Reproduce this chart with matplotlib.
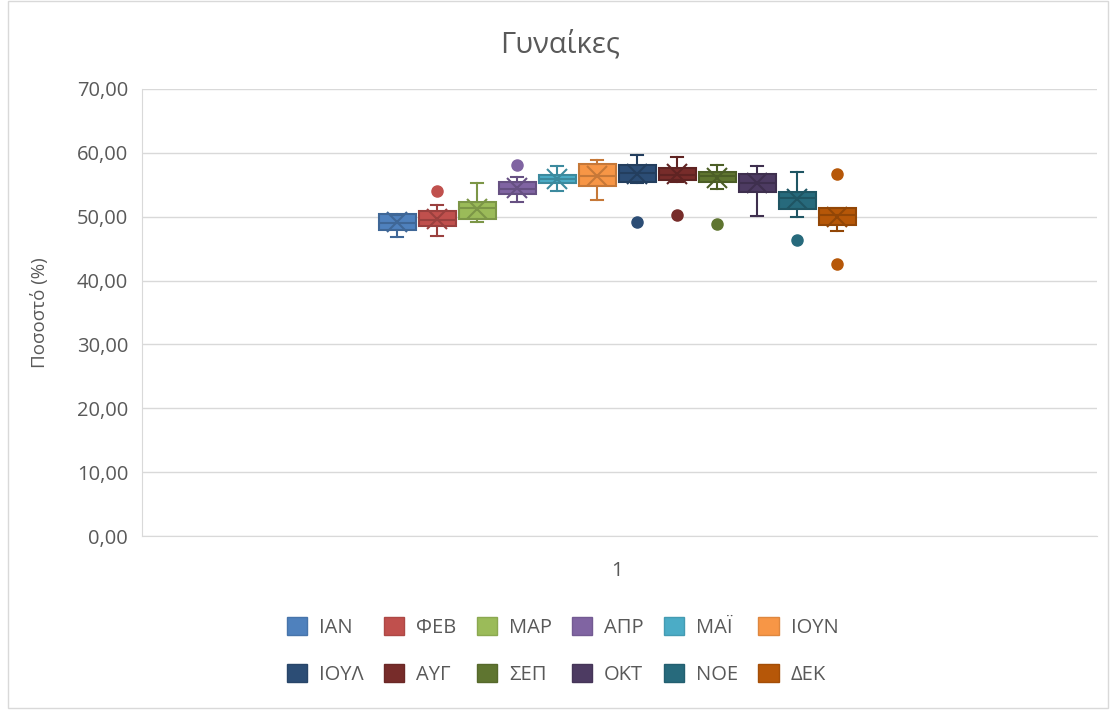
# Γυναίκες - box plot ανά μήνα

import matplotlib
matplotlib.use("Agg")
import matplotlib.pyplot as plt
import matplotlib.colors as mcolors
from matplotlib.patches import Patch, Rectangle
from matplotlib.ticker import FuncFormatter

plt.rcParams['font.family'] = ['Open Sans', 'DejaVu Sans']

months = ['ΙΑΝ', 'ΦΕΒ', 'ΜΑΡ', 'ΑΠΡ', 'ΜΑΪ', 'ΙΟΥΝ',
          'ΙΟΥΛ', 'ΑΥΓ', 'ΣΕΠ', 'ΟΚΤ', 'ΝΟΕ', 'ΔΕΚ']
q1 = [47.9, 48.6, 49.6, 53.5, 55.2, 54.8, 55.4, 55.7, 55.5, 53.8, 51.2, 48.65]
q3 = [50.4, 50.9, 52.35, 55.4, 56.6, 58.2, 58.1, 57.7, 56.95, 56.7, 53.9, 51.4]
medians = [49.0, 49.5, 51.3, 54.4, 55.9, 56.3, 56.8, 56.6, 56.3, 55.3, 53.0, 50.2]
means = [49.1, 49.6, 51.2, 54.5, 55.9, 56.3, 56.7, 56.7, 56.1, 55.2, 52.7, 50.0]
whislo = [46.8, 47.0, 49.2, 52.35, 54.0, 52.6, 55.2, 55.4, 54.4, 50.05, 49.9, 47.8]
whishi = [50.3, 51.8, 55.2, 56.2, 58.0, 58.9, 59.6, 59.4, 58.1, 57.9, 57.05, 51.4]
outliers = [[], [54.0], [], [58.1], [], [], [49.1], [50.3], [48.9], [], [46.35], [56.7, 42.6]]

colors = ['#4F81BD', '#C0504D', '#9BBB59', '#8064A2', '#4BACC6', '#F79646',
          '#2C4D75', '#772C2A', '#5F7530', '#4D3B62', '#276A7C', '#B65708']


def darker(c, f=0.8):
    r, g, b = mcolors.to_rgb(c)
    return (r * f, g * f, b * f)


fig = plt.figure(figsize=(11.1, 7.17), dpi=100)
ax = fig.add_axes([0.128, 0.2524, 0.86, 0.6235])

# rahmen der grafik
fig.patches.append(Rectangle((0.007, 0.012), 0.991, 0.986, transform=fig.transFigure,
                             fill=False, edgecolor='#D9D9D9', linewidth=1))

step = 0.0419
width = 0.0387
for i, m in enumerate(months):
    pos = 0.498 + (i - 5.5) * step
    st = [dict(med=medians[i], q1=q1[i], q3=q3[i], whislo=whislo[i],
               whishi=whishi[i], fliers=outliers[i], mean=means[i], label=m)]
    ec = darker(colors[i])
    ax.bxp(st, positions=[pos], widths=width, capwidths=0.0126,
           showmeans=True, patch_artist=True, manage_ticks=False,
           boxprops=dict(facecolor=colors[i], edgecolor=ec, linewidth=1.5),
           medianprops=dict(color=ec, linewidth=1.5),
           whiskerprops=dict(color=ec, linewidth=1.5),
           capprops=dict(color=ec, linewidth=1.5),
           meanprops=dict(marker='x', markeredgecolor=ec, markersize=14,
                          markeredgewidth=1.5),
           flierprops=dict(marker='o', markerfacecolor=colors[i],
                           markeredgecolor=colors[i], markersize=8))

ax.set_xlim(0, 1)
ax.set_ylim(0, 70)
ax.set_yticks(range(0, 71, 10))
ax.yaxis.set_major_formatter(FuncFormatter(lambda v, p: f"{v:.2f}".replace('.', ',')))
ax.set_xticks([0.498])
ax.set_xticklabels(['1'])
ax.tick_params(axis='both', length=0, labelsize=14.5, colors='#595959', pad=10)
ax.tick_params(axis='x', pad=18)
ax.grid(axis='y', color='#D9D9D9', linewidth=1)
ax.set_axisbelow(True)
for s in ['top', 'right']:
    ax.spines[s].set_visible(False)
ax.spines['left'].set_color('#D9D9D9')
ax.spines['bottom'].set_color('#D9D9D9')

ax.set_ylabel('Ποσοστό (%)', fontsize=13.5, color='#595959', labelpad=20)
fig.text(0.505, 1 - 45 / 717, 'Γυναίκες', fontsize=21, color='#595959',
         ha='center', va='center')

# legende zeilenweise: umordnen, da matplotlib spaltenweise fuellt
handles = [Patch(facecolor=c, edgecolor=darker(c, 0.9), label=m) for m, c in zip(months, colors)]
order = [0, 6, 1, 7, 2, 8, 3, 9, 4, 10, 5, 11]
fig.legend(handles=[handles[k] for k in order], loc='center', bbox_to_anchor=(0.507, 0.092),
           ncol=6, frameon=False, fontsize=14.5, handlelength=1.0, handleheight=1.0,
           handletextpad=0.6, columnspacing=1.0, labelspacing=1.3,
           labelcolor='#595959')

fig.savefig('out.png', dpi=100)
